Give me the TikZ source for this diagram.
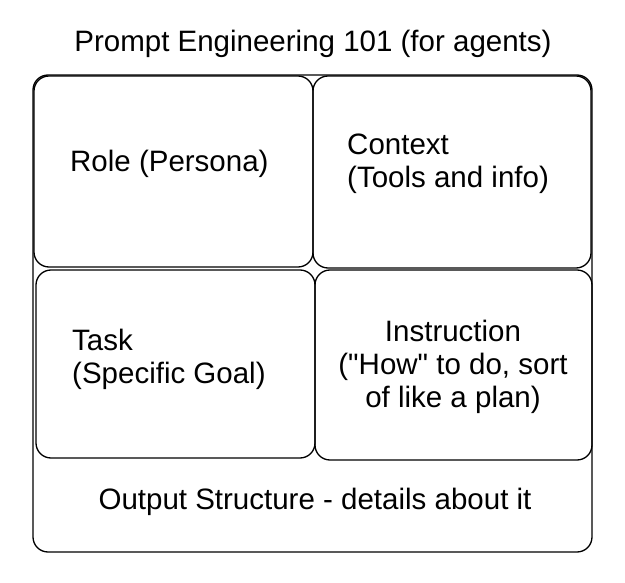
\documentclass[tikz,border=0pt]{standalone}
\usepackage{fontspec}
\setmainfont{Liberation Sans}[Ligatures=TeXOff]
\usepackage{tikz}

\begin{document}
\begin{tikzpicture}[x=1pt,y=-1pt]
\tikzstyle{every node}+=[inner sep=0pt]
\tikzstyle{card}=[black,line width=1.3pt,rounded corners=15pt]
\tikzstyle{txt}=[font=\fontsize{29.5}{33}\selectfont,align=left]
\useasboundingbox (0,0) rectangle (625,583);
% outer frame
\draw [card] (33,75) rectangle (592,552);
% four cards
\draw [card] (34,76) rectangle (313,267);
\draw [card] (313,76) rectangle (591,268);
\draw [card] (36,270) rectangle (315,458);
\draw [card] (315,270) rectangle (592,460);
% labels
\node [txt] (title) at (313,44) {Prompt Engineering 101 (for agents)};
\node [txt,anchor=west] (role) at (70,164) {Role (Persona)};
\node [txt,anchor=west] (context) at (347,164) {Context\\(Tools and info)};
\node [txt,anchor=west] (task) at (72,359) {Task\\(Specific Goal)};
\node [txt,align=center] (instr) at (453,367) {Instruction\\("How" to do, sort\\of like a plan)};
\node [txt] (output) at (315,502) {Output Structure - details about it};
\end{tikzpicture}
\end{document}
